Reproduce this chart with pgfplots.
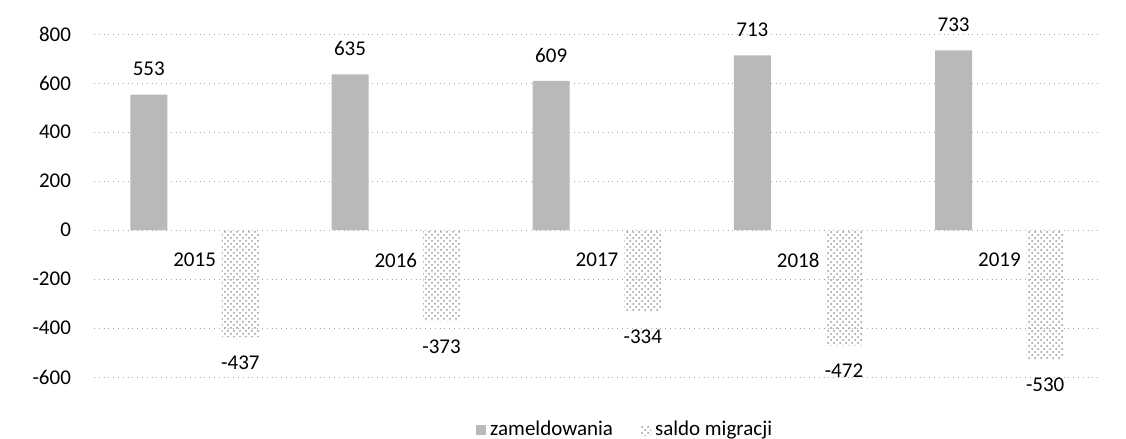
\documentclass[border=0pt]{standalone}
\usepackage{fontspec}
\setmainfont{Carlito}
\usepackage{pgfplots}
\pgfplotsset{compat=1.18}
\usetikzlibrary{patterns}
\begin{document}
\begin{tikzpicture}
\path[use as bounding box] (0,0) rectangle (563pt,219.5pt);
\begin{axis}[
  at={(47pt,31pt)}, anchor=south west,
  scale only axis, width=503pt, height=171.5pt,
  clip=false,
  ymin=-600, ymax=800, ytick={-600,-400,...,800},
  xmin=-0.5, xmax=4.5, xtick={0,...,4},
  xticklabels={2015,2016,2017,2018,2019},
  axis x line*=middle, axis y line*=left,
  axis line style={draw=none}, major tick length=0pt,
  ymajorgrids, grid style={dotted, gray!70},
  font=\fontsize{10.5}{12}\selectfont,
  tick label style={font=\fontsize{10.5}{12}\selectfont},
  /pgf/number format/assume math mode=true,
  y tick label style={xshift=-8pt},
  x tick label style={yshift=-8pt},
  ybar, bar width=18.5pt,
  nodes near coords,
  every node near coord/.append style={inner ysep=9pt, inner xsep=0pt,
    font=\fontsize{10.5}{12}\selectfont, text=black},
  legend style={draw=none, at={(0.529,-0.155)}, anchor=center,
    legend columns=-1, font=\fontsize{10.5}{12}\selectfont,
    /tikz/every even column/.append style={column sep=12pt}},
  legend image code/.code={\path[#1, draw=none] (0pt,-2.5pt) rectangle (5pt,2.5pt);},
]
\addplot[fill=gray!55, draw=none, bar shift=-22.9pt] coordinates {
  (0,553) (1,635) (2,609) (3,713) (4,733)};
\addplot[pattern=crosshatch dots, pattern color=gray!80, draw=none, bar shift=22.9pt] coordinates {
  (0,-437) (1,-373) (2,-334) (3,-472) (4,-530)};
\legend{zameldowania, saldo migracji}
\end{axis}
\end{tikzpicture}
\end{document}
